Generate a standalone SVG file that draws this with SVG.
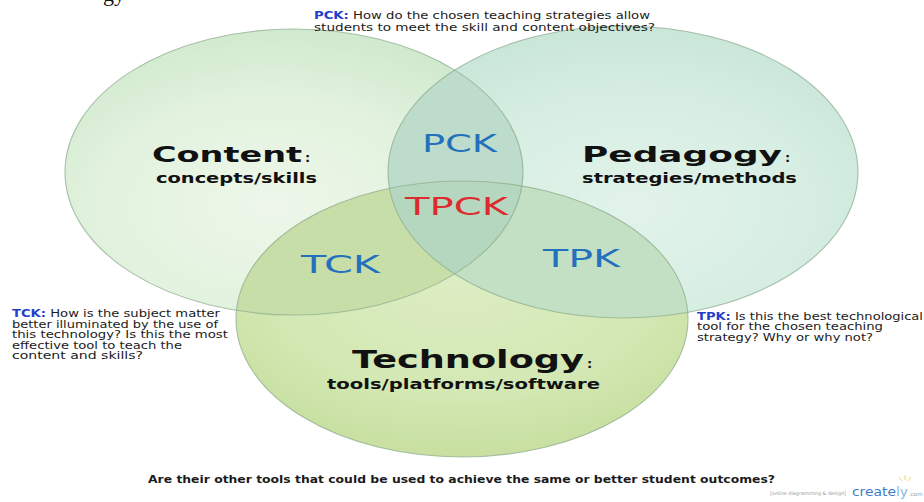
<svg xmlns="http://www.w3.org/2000/svg" width="924" height="502" viewBox="0 0 924 502">
  <style>
    .q { font-family: "DejaVu Sans", "Liberation Sans", sans-serif; font-size: 10px; fill: #1b1b1b; }
    .qk { fill: #1f3ec9; font-weight: bold; }
    .title { font-family: "DejaVu Sans", "Liberation Sans", sans-serif; font-weight: bold; fill: #111; }
    .sub { font-family: "DejaVu Sans", "Liberation Sans", sans-serif; font-weight: bold; font-size: 14.5px; fill: #111; }
    .colon { font-family: "DejaVu Sans", "Liberation Sans", sans-serif; font-weight: bold; font-size: 13px; fill: #111; }
    .lens { font-family: "DejaVu Sans", "Liberation Sans", sans-serif; font-size: 24px; }
    .blue { fill: #2370bd; }
    .red { fill: #dc2a2e; }
    .edge { fill: none; stroke: #8fae8f; stroke-width: 1.1; stroke-opacity: 0.75; }
  </style>
  <defs>
    <radialGradient id="gContent" cx="0.45" cy="0.62" r="0.62">
      <stop offset="0" stop-color="#eef7ea"/>
      <stop offset="0.6" stop-color="#e2f2de"/>
      <stop offset="1" stop-color="#d1e9ce"/>
    </radialGradient>
    <radialGradient id="gPed" cx="0.52" cy="0.62" r="0.62">
      <stop offset="0" stop-color="#e2f3ea"/>
      <stop offset="0.6" stop-color="#d7eee3"/>
      <stop offset="1" stop-color="#c9e6d8"/>
    </radialGradient>
    <radialGradient id="gTech" cx="0.5" cy="0.35" r="0.7">
      <stop offset="0" stop-color="#ddedc4"/>
      <stop offset="0.6" stop-color="#d3e8b3"/>
      <stop offset="1" stop-color="#c5dd9c"/>
    </radialGradient>
    <clipPath id="clipC"><ellipse cx="294" cy="172" rx="229" ry="143"/></clipPath>
    <clipPath id="clipP"><ellipse cx="623" cy="172" rx="235" ry="146"/></clipPath>
  </defs>

  <rect width="924" height="502" fill="#ffffff"/>

  <!-- clipped tail of a heading above the frame -->
  <text x="103" y="0.5" font-family="Liberation Serif, serif" font-size="22" fill="#111">gy</text>

  <!-- circle bodies -->
  <g id="content-circle">
    <ellipse cx="294" cy="172" rx="229" ry="143" fill="url(#gContent)"/>
  </g>
  <g id="pedagogy-circle">
    <ellipse cx="623" cy="172" rx="235" ry="146" fill="url(#gPed)"/>
  </g>
  <g id="technology-circle">
    <ellipse cx="462" cy="319" rx="226" ry="138" fill="url(#gTech)"/>
  </g>

  <!-- overlap regions -->
  <g id="overlaps">
    <ellipse cx="623" cy="172" rx="235" ry="146" fill="#bddccb" clip-path="url(#clipC)"/>
    <ellipse cx="462" cy="319" rx="226" ry="138" fill="#c7dea9" clip-path="url(#clipC)"/>
    <ellipse cx="462" cy="319" rx="226" ry="138" fill="#c3e0c4" clip-path="url(#clipP)"/>
    <g clip-path="url(#clipC)">
      <ellipse cx="462" cy="319" rx="226" ry="138" fill="#b6d7bf" clip-path="url(#clipP)"/>
    </g>
  </g>

  <!-- outlines -->
  <g id="outlines">
    <ellipse class="edge" cx="294" cy="172" rx="229" ry="143"/>
    <ellipse class="edge" cx="623" cy="172" rx="235" ry="146"/>
    <ellipse class="edge" cx="462" cy="319" rx="226" ry="138"/>
  </g>

  <g id="connectors"/>

  <!-- circle labels -->
  <g id="content">
    <text class="title" x="152" y="162" font-size="21" textLength="150" lengthAdjust="spacingAndGlyphs">Content</text>
    <text class="colon" x="305" y="162">:</text>
    <text class="sub" x="156" y="183" textLength="161" lengthAdjust="spacingAndGlyphs">concepts/skills</text>
  </g>
  <g id="pedagogy">
    <text class="title" x="582" y="162" font-size="21" textLength="200" lengthAdjust="spacingAndGlyphs">Pedagogy</text>
    <text class="colon" x="785" y="162">:</text>
    <text class="sub" x="582" y="183" textLength="215" lengthAdjust="spacingAndGlyphs">strategies/methods</text>
  </g>
  <g id="technology">
    <text class="title" x="352" y="368" font-size="24" textLength="232" lengthAdjust="spacingAndGlyphs">Technology</text>
    <text class="colon" x="587" y="368">:</text>
    <text class="sub" x="327" y="389" textLength="273" lengthAdjust="spacingAndGlyphs">tools/platforms/software</text>
  </g>

  <!-- intersection labels -->
  <g id="pck">
    <text class="lens blue" x="422" y="152" textLength="75" lengthAdjust="spacingAndGlyphs">PCK</text>
  </g>
  <g id="tpck">
    <text class="lens red" x="405" y="215" textLength="103" lengthAdjust="spacingAndGlyphs">TPCK</text>
  </g>
  <g id="tck">
    <text class="lens blue" x="301" y="273" textLength="79" lengthAdjust="spacingAndGlyphs">TCK</text>
  </g>
  <g id="tpk">
    <text class="lens blue" x="543" y="267" textLength="77" lengthAdjust="spacingAndGlyphs">TPK</text>
  </g>

  <!-- guiding questions -->
  <g id="pck-question">
    <text class="q" x="314" y="18.5" textLength="336" lengthAdjust="spacingAndGlyphs"><tspan class="qk">PCK:</tspan> How do the chosen teaching strategies allow</text>
    <text class="q" x="314" y="30.5" textLength="341" lengthAdjust="spacingAndGlyphs">students to meet the skill and content objectives?</text>
  </g>
  <g id="tck-question">
    <text class="q" x="12" y="317" textLength="208" lengthAdjust="spacingAndGlyphs"><tspan class="qk">TCK:</tspan> How is the subject matter</text>
    <text class="q" x="12" y="327.5" textLength="206" lengthAdjust="spacingAndGlyphs">better illuminated by the use of</text>
    <text class="q" x="12" y="338" textLength="216" lengthAdjust="spacingAndGlyphs">this technology? Is this the most</text>
    <text class="q" x="12" y="348.5" textLength="170" lengthAdjust="spacingAndGlyphs">effective tool to teach the</text>
    <text class="q" x="12" y="359" textLength="131" lengthAdjust="spacingAndGlyphs">content and skills?</text>
  </g>
  <g id="tpk-question">
    <text class="q" x="697" y="319.5" textLength="226" lengthAdjust="spacingAndGlyphs"><tspan class="qk">TPK:</tspan> Is this the best technological</text>
    <text class="q" x="697" y="330" textLength="186" lengthAdjust="spacingAndGlyphs">tool for the chosen teaching</text>
    <text class="q" x="697" y="340.5" textLength="176" lengthAdjust="spacingAndGlyphs">strategy? Why or why not?</text>
  </g>
  <g id="closing-question">
    <text class="q" x="148" y="483" font-weight="bold" font-size="10.5" textLength="627" lengthAdjust="spacingAndGlyphs">Are their other tools that could be used to achieve the same or better student outcomes?</text>
  </g>

  <!-- footer mark -->
  <g id="footer">
    <text x="770" y="495" font-family="DejaVu Sans, sans-serif" font-size="4.8" fill="#9a9a9a" textLength="76" lengthAdjust="spacingAndGlyphs">[online diagramming &amp; design]</text>
    <g stroke="#f2c94c" stroke-width="0.8">
      <line x1="905" y1="480" x2="905" y2="475"/>
      <line x1="902" y1="481" x2="899" y2="477"/>
      <line x1="908" y1="481" x2="911" y2="477"/>
    </g>
    <text x="852" y="496" font-family="DejaVu Sans, sans-serif" font-size="12" textLength="56" lengthAdjust="spacingAndGlyphs"><tspan fill="#3f7cc4">create</tspan><tspan fill="#8bb8e4">ly</tspan></text>
    <text x="909" y="496" font-family="DejaVu Sans, sans-serif" font-size="5.5" fill="#9a9a9a">.com</text>
  </g>
</svg>
